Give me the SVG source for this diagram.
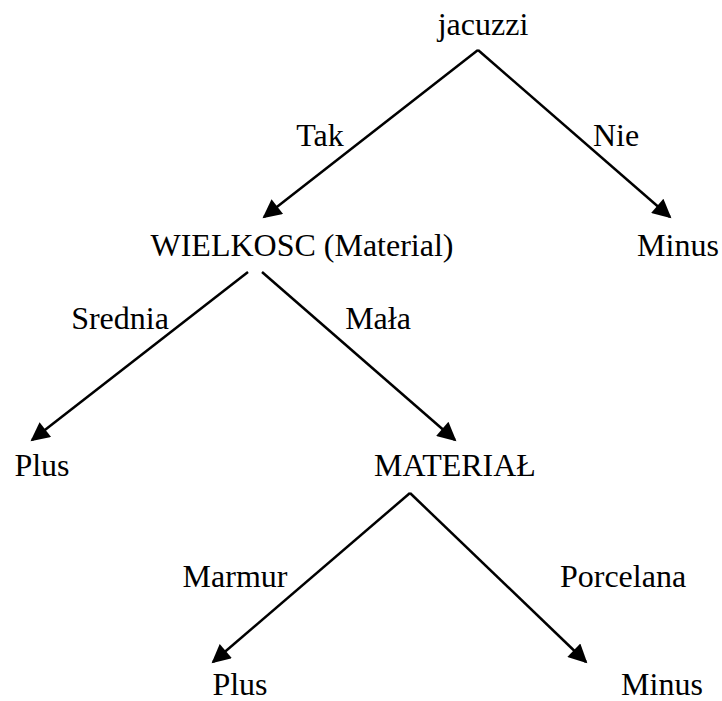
<svg xmlns="http://www.w3.org/2000/svg" width="722" height="701" viewBox="0 0 722 701">
<style>
.t{font-family:'Liberation Serif', 'Times New Roman', Times, serif;font-size:32px;fill:#000}
.n{text-anchor:middle}
.e{stroke:#000;stroke-width:2.5;fill:none;marker-end:url(#ah)}
</style>
<defs>
<marker id="ah" viewBox="0 0 10 10" refX="9" refY="5" markerWidth="9" markerHeight="7.5" markerUnits="strokeWidth" orient="auto">
<path d="M0,0 L10,5 L0,10 z" fill="#000"/>
</marker>
</defs>
<rect width="722" height="701" fill="#fff"/>
<g id="connectors">
<path class="e" d="M478,50 L264,217"/>
<path class="e" d="M478,50 L670,217"/>
<path class="e" d="M248,272 L32,440"/>
<path class="e" d="M262,272 L455,440"/>
<path class="e" d="M410,493 L213,662"/>
<path class="e" d="M410,493 L586,662"/>
<g class="t">
<text x="320" y="146" class="n">Tak</text>
<text x="616" y="146" class="n">Nie</text>
<text x="120" y="329" class="n">Srednia</text>
<text x="378" y="329" class="n">Mała</text>
<text x="235" y="587" class="n">Marmur</text>
<text x="623" y="587" class="n">Porcelana</text>
</g>
</g>
<g class="t">
<g id="jacuzzi"><text x="483" y="35" class="n">jacuzzi</text></g>
<g id="wielkosc"><text x="302" y="256" class="n">WIELKOSC (Material)</text></g>
<g id="minus1"><text x="678" y="256" class="n">Minus</text></g>
<g id="plus1"><text x="42" y="476" class="n">Plus</text></g>
<g id="material"><text x="455" y="476" class="n">MATERIAŁ</text></g>
<g id="plus2"><text x="240" y="695" class="n">Plus</text></g>
<g id="minus2"><text x="662" y="695" class="n">Minus</text></g>
</g>
</svg>
